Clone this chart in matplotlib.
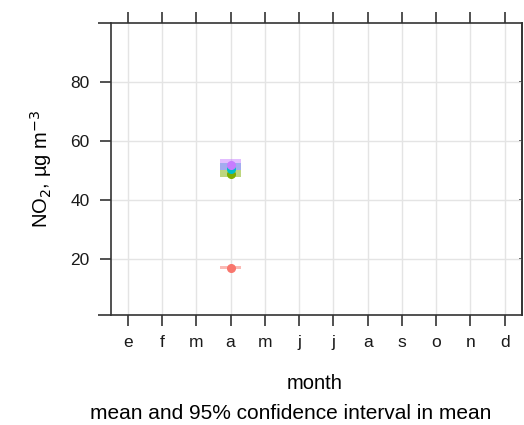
import numpy as np
import matplotlib.pyplot as plt

plt.rcParams['font.family'] = ['Liberation Sans', 'DejaVu Sans']

# monthly means of NO2 for four series; only April has data
months = ['e', 'f', 'm', 'a', 'm', 'j', 'j', 'a', 's', 'o', 'n', 'd']
month_idx = [4]
series_names = ['s1', 's2', 's3', 's4']
series_colors = ['#F8766D', '#7CAE00', '#00BFC4', '#C77CFF']
mean_vals = [17.0, 48.9, 50.6, 51.9]
ci_low = [16.6, 47.6, 50.1, 50.1]
ci_high = [17.7, 50.2, 52.4, 53.8]

fig = plt.figure(figsize=(5.24, 4.25), dpi=100)
ax = fig.add_axes([0.211, 0.26, 0.785, 0.687])

frame_col = '#333333'
for sp in ax.spines.values():
    sp.set_color(frame_col)
    sp.set_linewidth(1.2)

# grid
ax.set_axisbelow(True)
ax.grid(True, color='#e4e4e4', lw=1.0)

# confidence bands (drawn as boxes around each month) and mean points
box_w = 0.6
for name, col, m, lo, hi in zip(series_names, series_colors, mean_vals, ci_low, ci_high):
    for x in month_idx:
        ax.fill_between([x - box_w / 2, x + box_w / 2], lo, hi, color=col,
                        alpha=0.5, lw=0, zorder=2)
    ax.plot(month_idx, [m], marker='o', ms=5.5, color=col, lw=1.5, zorder=3)

ax.set_xlim(0.5, 12.5)
ax.set_ylim(1.2, 100)
ax.set_xticks(np.arange(1, 13))
ax.set_xticklabels(months)
ax.set_yticks([20, 40, 60, 80])

ax.tick_params(axis='both', colors=frame_col, labelcolor='#1a1a1a', labelsize=12.5,
               length=8, width=1.2, direction='out', pad=7)
ax.tick_params(axis='x', top=True)
ax.tick_params(axis='y', right=False)

# small inward ticks on the right side
ry = ax.secondary_yaxis('right')
ry.set_yticks([20, 40, 60, 80])
ry.tick_params(direction='in', length=2, width=1.2, colors=frame_col, labelright=False)
ry.spines['right'].set_color(frame_col)
ry.spines['right'].set_linewidth(1.2)

# top and bottom frame lines run a little past the left edge
for yy in (0, 1):
    ax.plot([-0.031, 0], [yy, yy], transform=ax.transAxes, color=frame_col,
            lw=1.2, clip_on=False, solid_capstyle='butt')

ax.set_ylabel('NO$_2$, µg m$^{-3}$', fontsize=14.5, labelpad=12)
fig.text(0.601, 0.097, 'month', fontsize=14.5, ha='center', va='center')
fig.text(0.555, 0.026, 'mean and 95% confidence interval in mean', fontsize=15,
         ha='center', va='center')

fig.savefig('out.png', dpi=100)
